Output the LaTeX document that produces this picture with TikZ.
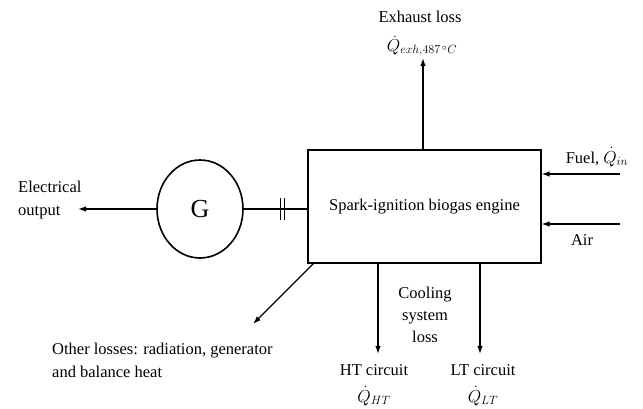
\documentclass[tikz,border=0pt]{standalone}
\usepackage{fontspec}
\setmainfont{Liberation Serif}
\usetikzlibrary{arrows.meta, positioning, calc, shapes.geometric}

\begin{document}
\begin{tikzpicture}[x=1pt, y=-1pt,
  every node/.style={font=\fontsize{16.5}{23}\selectfont, inner sep=0pt},
  flow/.style={line width=1.3pt, -{Latex[length=8pt,width=5.5pt]}},
  txt/.style={align=center},
  heat/.style={font=\fontsize{18}{22}\selectfont}]
  \useasboundingbox (0,0) rectangle (643,409);

  % engine and generator
  \node[draw, line width=1.1pt, minimum width=233pt, minimum height=113pt] (engine)
    at (424.5,206.5) {Spark-ignition biogas engine};
  \node[draw, ellipse, line width=1.6pt, minimum width=86pt, minimum height=98pt,
    font=\fontsize{26}{30}\selectfont] (gen) at (200,209) {G};

  % shaft with coupling
  \draw[line width=1.1pt] (gen.east) -- (gen.east -| engine.west);
  \coordinate (cpl) at (282.5,209);
  \draw[line width=1pt] ($(cpl)+(-1.7,-10.5)$) -- ++(0,21)
                        ($(cpl)+(1.7,-10.5)$) -- ++(0,21);

  % free ends
  \coordinate (exh)  at (423,58);
  \coordinate (fuel) at (620,174);
  \coordinate (air)  at (620,224);
  \coordinate (elec) at (78,209);
  \coordinate (oth)  at (253,324);
  \coordinate (ht)   at (378,354);
  \coordinate (lt)   at (480,354);

  % flows
  \draw[flow] (exh |- engine.north) -- (exh);
  \draw[flow] (fuel) -- (fuel -| engine.east);
  \draw[flow] (air) -- (air -| engine.east);
  \draw[flow] (gen.west) -- (elec);
  \draw[flow] ($(engine.south west)+(6,0)$) -- (oth);
  \draw[flow] (ht |- engine.south) -- (ht);
  \draw[flow] (lt |- engine.south) -- (lt);

  % labels
  \node (exhlbl) at (420,17) {Exhaust loss};
  \node[heat] (exhq) at (422,46) {$\dot{Q}_{exh,487\,^{\circ}C}$};
  \node (fuellbl) at (597,157) {Fuel, \fontsize{18}{22}\selectfont$\dot{Q}_{in}$};
  \node (airlbl) at (582,240) {Air};
  \node[anchor=west, align=left] (eleclbl) at (18,200) {Electrical\\output};
  \node[anchor=west, align=left] (othlbl) at (52,360)
    {Other losses: radiation, generator\\and balance heat};
  \node[txt, font=\fontsize{16.5}{22}\selectfont] (cool) at (425,315) {Cooling\\system\\loss};
  \node (htlbl) at (374,370) {HT circuit};
  \node[heat] (htq) at (374,396) {$\dot{Q}_{HT}$};
  \node (ltlbl) at (483,370) {LT circuit};
  \node[heat] (ltq) at (483,396) {$\dot{Q}_{LT}$};
\end{tikzpicture}
\end{document}
